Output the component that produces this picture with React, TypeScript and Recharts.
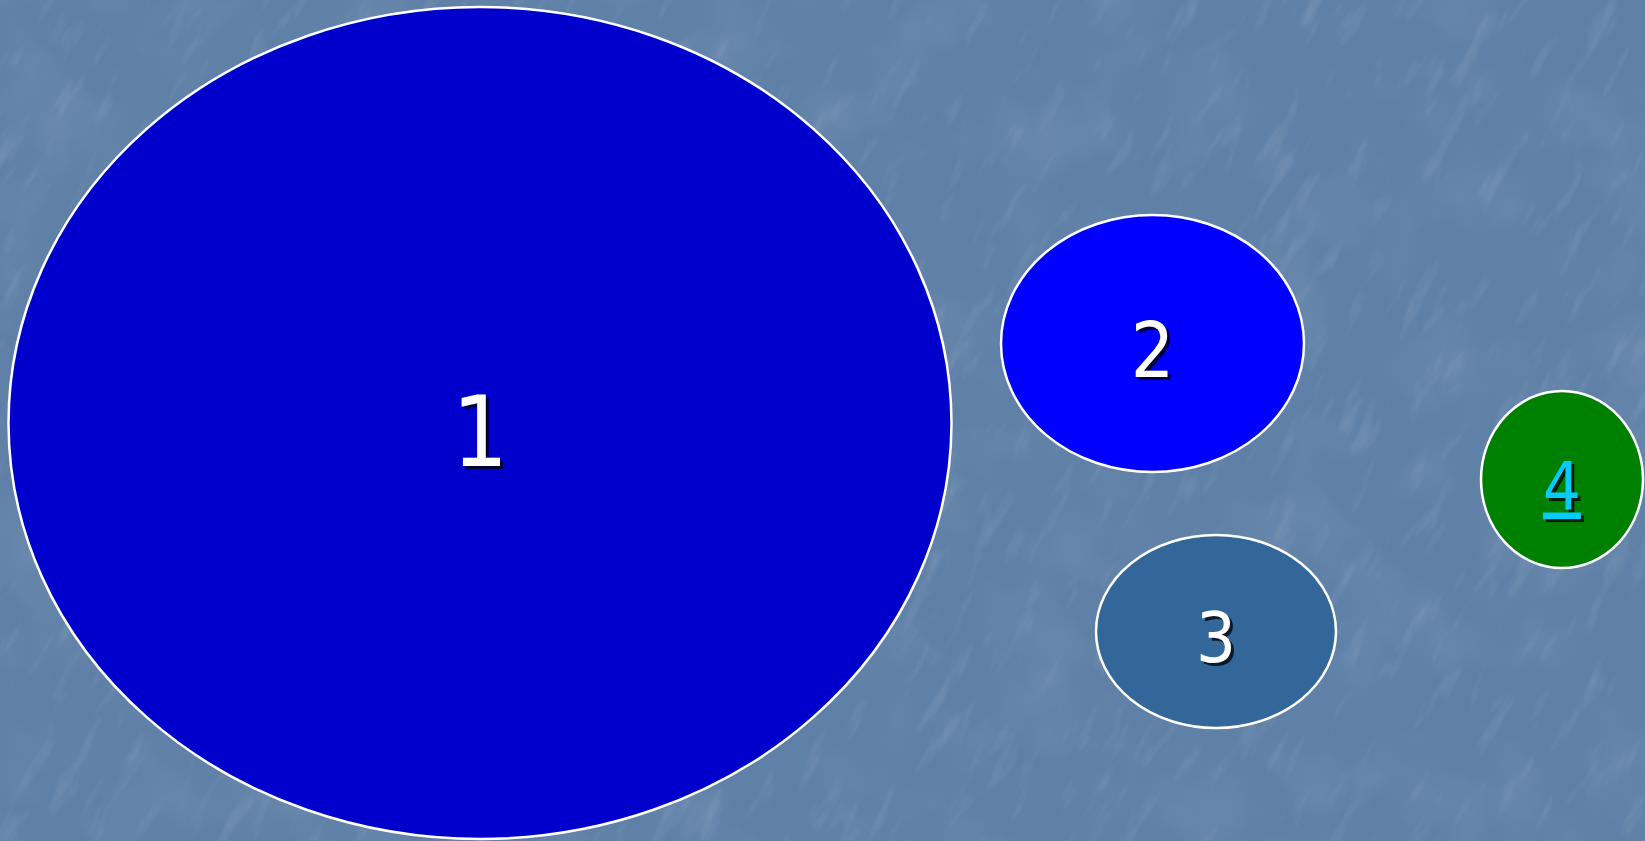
import { Scatter, ScatterChart, XAxis, YAxis } from "recharts";

const WIDTH = 1645;
const HEIGHT = 841;

// slide coordinates, one unit = one pixel of the original slide
const X_MAX = 1645;
const Y_MAX = 841;

const labels = ["1", "2", "3", "4"];
const centerX = [480, 1152.5, 1216, 1562];
const centerY = [423, 343.5, 631.5, 479.5];
const radiusX = [471.5, 151.5, 120, 81];
const radiusY = [416, 128.5, 96.5, 88.5];

const BUBBLE_STYLES = [
  { fill: "#0000CC", text: "#FFFFFF", fontSize: 98, underline: false },
  { fill: "#0000FF", text: "#FFFFFF", fontSize: 76, underline: false },
  { fill: "#336699", text: "#FFFFFF", fontSize: 70, underline: false },
  { fill: "#008000", text: "#00CCFF", fontSize: 66, underline: true },
];

const data = labels.map((label, i) => ({
  label,
  x: centerX[i],
  y: centerY[i],
  rx: radiusX[i],
  ry: radiusY[i],
  idx: i,
}));

const PX_X = WIDTH / X_MAX;
const PX_Y = HEIGHT / Y_MAX;

function Bubble(props: any) {
  const { cx, cy, payload } = props;
  if (cx == null || cy == null) return null;
  const style = BUBBLE_STYLES[payload.idx];
  const baseline = cy + style.fontSize * 0.44;
  const textProps = {
    x: cx,
    textAnchor: "middle" as const,
    fontFamily: "'DejaVu Sans Condensed', 'DejaVu Sans', sans-serif",
    fontSize: style.fontSize,
    textDecoration: style.underline ? "underline" : "none",
  };
  return (
    <g>
      <ellipse
        cx={cx}
        cy={cy}
        rx={payload.rx * PX_X}
        ry={payload.ry * PX_Y}
        fill={style.fill}
        stroke="#FFFFFF"
        strokeWidth={2.5}
      />
      <text {...textProps} x={cx + 3} y={baseline + 3} fill="#000000" fillOpacity={0.75}>
        {payload.label}
      </text>
      <text {...textProps} y={baseline} fill={style.text}>
        {payload.label}
      </text>
    </g>
  );
}

function Texture() {
  return (
    <svg
      width={WIDTH}
      height={HEIGHT}
      style={{ position: "absolute", left: 0, top: 0 }}
    >
      <defs>
        <filter id="streaks" x="0" y="0" width="100%" height="100%">
          <feTurbulence type="fractalNoise" baseFrequency="0.06 0.015" numOctaves={3} seed={7} />
          <feColorMatrix
            type="matrix"
            values="0 0 0 0 1  0 0 0 0 1  0 0 0 0 1  1.4 0 0 0 -0.8"
          />
        </filter>
        <filter id="blotch" x="0" y="0" width="100%" height="100%">
          <feTurbulence type="fractalNoise" baseFrequency="0.012" numOctaves={3} seed={3} />
          <feColorMatrix
            type="matrix"
            values="0 0 0 0 0.25  0 0 0 0 0.35  0 0 0 0 0.5  1.2 0 0 0 -0.5"
          />
        </filter>
      </defs>
      <rect width={WIDTH} height={HEIGHT} fill="#5F80A7" />
      <rect width={WIDTH} height={HEIGHT} filter="url(#blotch)" opacity={0.45} />
      <g transform={`rotate(28 ${WIDTH / 2} ${HEIGHT / 2})`}>
        <rect
          x={-700}
          y={-700}
          width={WIDTH + 1400}
          height={HEIGHT + 1400}
          filter="url(#streaks)"
          opacity={0.22}
        />
      </g>
    </svg>
  );
}

export default function App() {
  return (
    <div
      style={{
        position: "fixed",
        left: 0,
        top: 0,
        width: WIDTH,
        height: HEIGHT,
        overflow: "hidden",
        background: "#5F80A7",
      }}
    >
      <Texture />
      <div style={{ position: "absolute", left: 0, top: 0 }}>
        <ScatterChart
          width={WIDTH}
          height={HEIGHT}
          margin={{ top: 0, right: 0, bottom: 0, left: 0 }}
        >
          <XAxis type="number" dataKey="x" domain={[0, X_MAX]} hide />
          <YAxis type="number" dataKey="y" domain={[0, Y_MAX]} reversed hide />
          <Scatter data={data} shape={Bubble} isAnimationActive={false} />
        </ScatterChart>
      </div>
    </div>
  );
}
